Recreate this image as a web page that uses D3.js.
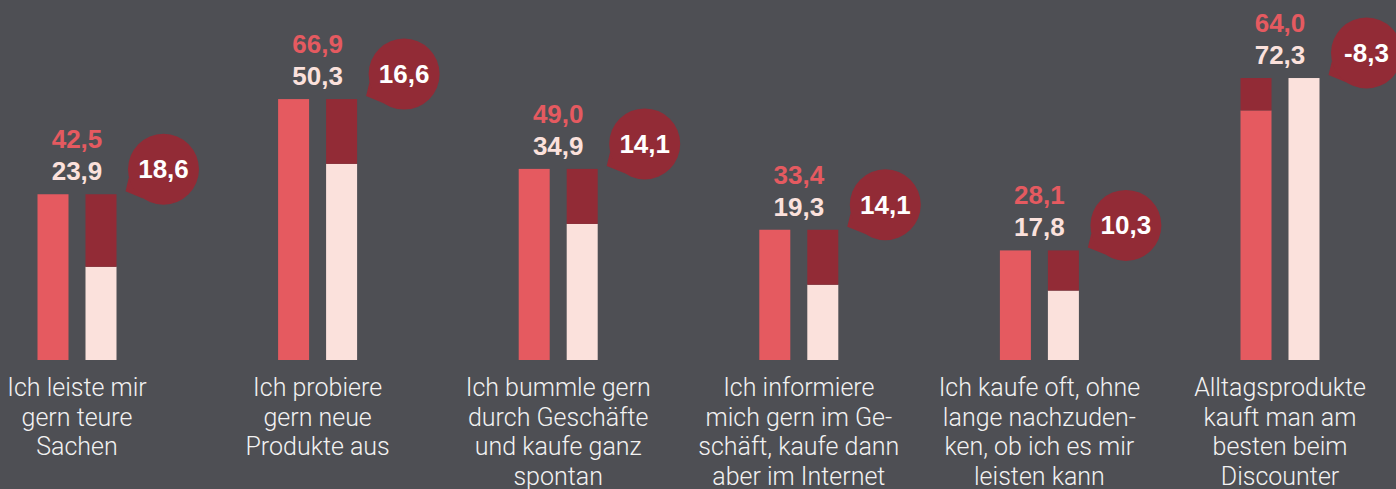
<!DOCTYPE html>
<html>
<head>
<meta charset="utf-8">
<script src="https://cdn.jsdelivr.net/npm/d3@7"></script>
<style>
  html, body { margin: 0; padding: 0; background: #4e4f54; overflow: hidden; }
  svg { display: block; }
</style>
</head>
<body>
<div id="chart"></div>
<script>
// category labels, already broken into lines as in the original
const categories = [
    ['Ich leiste mir', 'gern teure', 'Sachen'],
    ['Ich probiere', 'gern neue', 'Produkte aus'],
    ['Ich bummle gern', 'durch Geschäfte', 'und kaufe ganz', 'spontan'],
    ['Ich informiere', 'mich gern im Ge-', 'schäft, kaufe dann', 'aber im Internet'],
    ['Ich kaufe oft, ohne', 'lange nachzuden-', 'ken, ob ich es mir', 'leisten kann'],
    ['Alltagsprodukte', 'kauft man am', 'besten beim', 'Discounter']
];
const seriesA = [42.5, 66.9, 49.0, 33.4, 28.1, 64.0];   // red bars
const seriesB = [23.9, 50.3, 34.9, 19.3, 17.8, 72.3];   // light bars
const differences = [18.6, 16.6, 14.1, 14.1, 10.3, -8.3];

const width = 1396, height = 489;
const colors = { a: '#e55a60', b: '#fbe1dc', diff: '#922b36', text: '#f2f2f2' };

const de = d3.formatLocale({ decimal: ',', thousands: '.', grouping: [3], currency: ['', ' €'], minus: '-' });
const fmt = de.format('.1f');

const rows = categories.map((lines, i) => ({
    i, lines, a: seriesA[i], b: seriesB[i], diff: differences[i],
    max: Math.max(seriesA[i], seriesB[i]), min: Math.min(seriesA[i], seriesB[i])
}));

const svg = d3.select('#chart').append('svg')
    .attr('width', width)
    .attr('height', height);

const x = d3.scalePoint()
    .domain(rows.map(d => d.i))
    .range([77, 1280]);

const xInner = d3.scaleBand()
    .domain(['a', 'b'])
    .range([-39.5, 39.5])
    .paddingInner(0.354);

const y = d3.scaleLinear()
    .domain([0, 100])
    .range([360, -30]);

const g = svg.selectAll('.group')
    .data(rows)
    .enter().append('g')
    .attr('class', 'group')
    .attr('transform', d => `translate(${x(d.i)},0)`);

// red bar
g.append('rect')
    .attr('x', xInner('a'))
    .attr('width', xInner.bandwidth())
    .attr('y', d => y(d.a))
    .attr('height', d => y(0) - y(d.a))
    .style('fill', colors.a);

// light bar
g.append('rect')
    .attr('x', xInner('b'))
    .attr('width', xInner.bandwidth())
    .attr('y', d => y(d.b))
    .attr('height', d => y(0) - y(d.b))
    .style('fill', colors.b);

// difference stacked on the shorter bar
g.append('rect')
    .attr('x', d => d.a < d.b ? xInner('a') : xInner('b'))
    .attr('width', xInner.bandwidth())
    .attr('y', d => y(d.max))
    .attr('height', d => y(d.min) - y(d.max))
    .style('fill', colors.diff);

// value labels
g.append('text')
    .attr('x', 0)
    .attr('y', d => y(d.max) - 46)
    .attr('text-anchor', 'middle')
    .style('font-family', '"Liberation Sans", Arial, sans-serif')
    .style('font-weight', 'bold')
    .style('font-size', '26px')
    .style('fill', colors.a)
    .text(d => fmt(d.a));

g.append('text')
    .attr('x', 0)
    .attr('y', d => y(d.max) - 14)
    .attr('text-anchor', 'middle')
    .style('font-family', '"Liberation Sans", Arial, sans-serif')
    .style('font-weight', 'bold')
    .style('font-size', '26px')
    .style('fill', colors.b)
    .text(d => fmt(d.b));

// speech bubble with the difference
const r = 35.5;
const bubble = g.append('g')
    .attr('transform', d => `translate(${xInner('b') + xInner.bandwidth() + 47},${y(d.max) - 25})`);

bubble.append('path')
    .attr('d', () => {
        const tip = [-38, 22];
        const ang = Math.atan2(tip[1], tip[0]);
        const p1 = [r * Math.cos(ang - 0.45), r * Math.sin(ang - 0.45)];
        const p2 = [r * Math.cos(ang + 0.3), r * Math.sin(ang + 0.3)];
        return `M${p1}L${tip}L${p2}Z`;
    })
    .style('fill', colors.diff);

bubble.append('circle')
    .attr('r', r)
    .style('fill', colors.diff);

bubble.append('text')
    .attr('y', 9)
    .attr('text-anchor', 'middle')
    .style('font-family', '"Liberation Sans", Arial, sans-serif')
    .style('font-weight', 'bold')
    .style('font-size', '26px')
    .style('fill', '#fff')
    .text(d => fmt(d.diff));

// category labels
g.append('text')
    .attr('text-anchor', 'middle')
    .style('font-family', 'Roboto, "Liberation Sans", sans-serif')
    .style('font-weight', 300)
    .style('font-size', '25px')
    .style('fill', colors.text)
    .selectAll('tspan')
    .data(d => d.lines)
    .enter().append('tspan')
    .attr('x', 0)
    .attr('y', (d, i) => 396 + i * 29.5)
    .text(d => d);
</script>
</body>
</html>
